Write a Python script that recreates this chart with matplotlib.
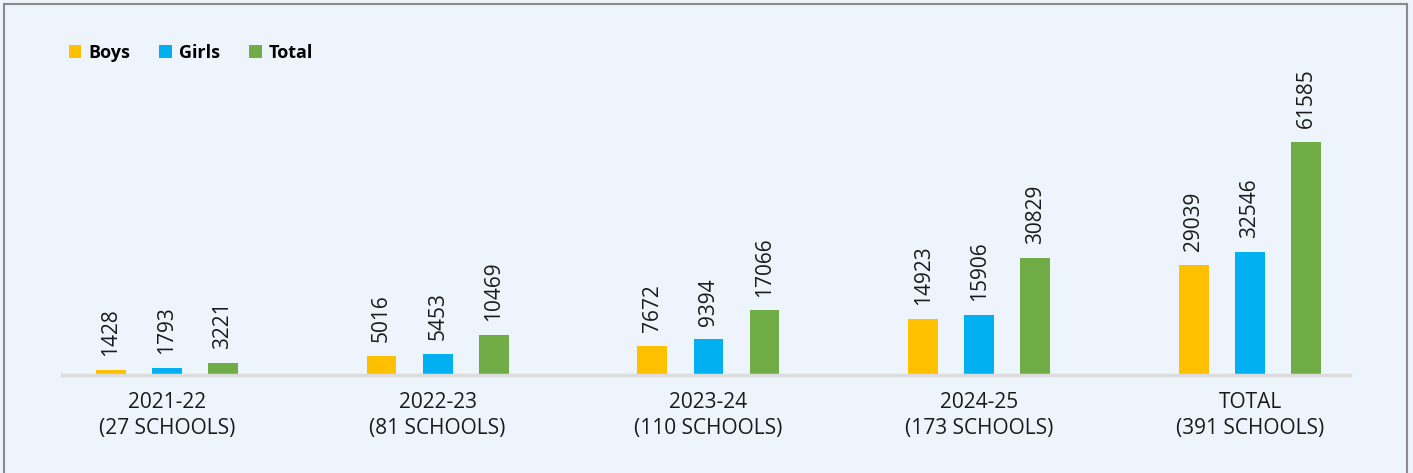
import matplotlib.pyplot as plt
from matplotlib.patches import Rectangle
import numpy as np

# Данные
years = ['2021-22\n(27 SCHOOLS)', '2022-23\n(81 SCHOOLS)', '2023-24\n(110 SCHOOLS)',
         '2024-25\n(173 SCHOOLS)', 'TOTAL\n(391 SCHOOLS)']
boys = [1428, 5016, 7672, 14923, 29039]
girls = [1793, 5453, 9394, 15906, 32546]
total = [3221, 10469, 17066, 30829, 61585]

bg = '#EEF4FC'
plt.rcParams['font.family'] = ['Open Sans', 'DejaVu Sans']

fig = plt.figure(figsize=(14.13, 4.73), dpi=100, facecolor=bg)
fig.patches.append(Rectangle((0.003, -0.1), 0.993, 1.092, transform=fig.transFigure,
                             fill=False, edgecolor='#8a8a8a', linewidth=1.5))

ax = fig.add_axes([0.0439, 0.2072, 0.9115, 0.6660])
ax.set_facecolor(bg)

x = np.arange(len(years))
w = 0.11
off = 0.207
series = [(boys, '#FFC000', 'Boys'), (girls, '#00B0F0', 'Girls'), (total, '#70AD47', 'Total')]
for i, (vals, col, name) in enumerate(series):
    bars = ax.bar(x + (i - 1) * off, vals, width=w, color=col, label=name)
    ax.bar_label(bars, labels=[str(v) for v in vals], rotation=90, padding=10,
                 fontsize=15, color='#1a1a1a')

ax.set_xlim(-0.387, 4.369)
ax.set_ylim(0, 83260)
ax.set_yticks([])
ax.set_xticks(x)
ax.set_xticklabels(years, fontsize=15, color='#1a1a1a', linespacing=1.35)
ax.tick_params(axis='x', length=0, pad=12)
for s in ['top', 'right', 'left']:
    ax.spines[s].set_visible(False)
ax.spines['bottom'].set_color('#dcdcdc')
ax.spines['bottom'].set_linewidth(2.5)

fig.legend(loc='center left', bbox_to_anchor=(0.037, 0.888), ncol=3, frameon=False,
           handlelength=0.7, handleheight=0.7, handletextpad=0.4, columnspacing=1.6,
           prop={'weight': 'bold', 'size': 13})

fig.savefig('out.png', dpi=100, facecolor=bg)
